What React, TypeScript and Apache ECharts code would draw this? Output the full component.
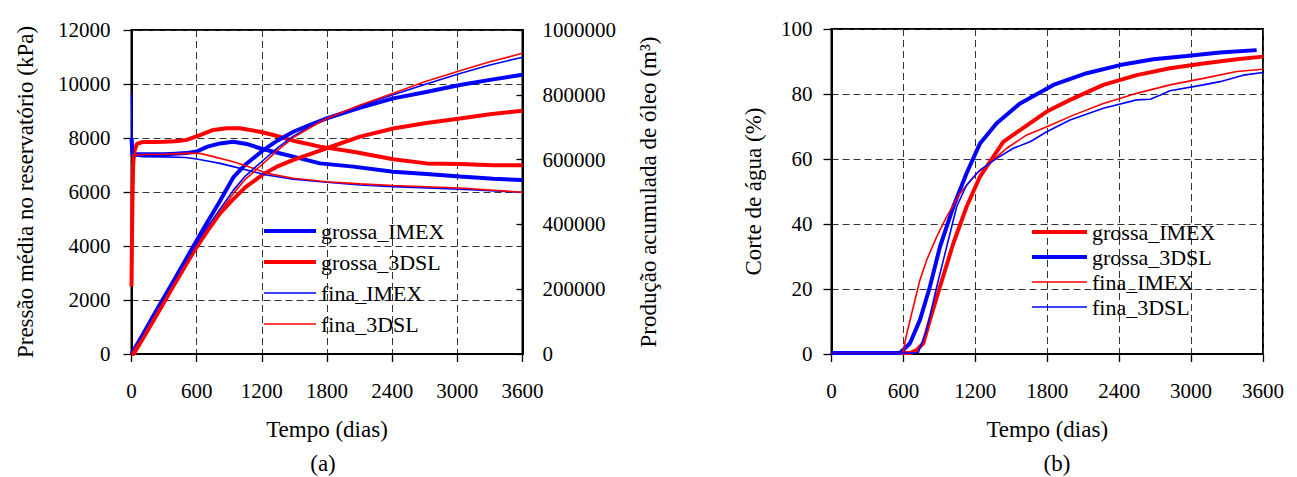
import React, { useEffect, useRef } from "react";
import * as echarts from "echarts";

const FONT = "Liberation Serif";
const BLUE = "#0000ff";
const RED = "#ff0000";
const THICK = 4;
const THIN = 1.6;

const X_TICKS = [0, 600, 1200, 1800, 2400, 3000, 3600];
const LEGEND_NAMES = ["grossa_IMEX", "grossa_3DSL", "fina_IMEX", "fina_3DSL"];

// ---------- (a) Pressão média (kPa) ----------
const pGrossaImexT = [0, 10, 30, 100, 200, 300, 400, 500, 600, 700, 815, 937, 1060, 1183, 1306, 1490, 1735, 2042, 2410, 2717, 3024, 3331, 3600];
const pGrossaImexV = [8000, 7350, 7400, 7400, 7400, 7400, 7420, 7440, 7500, 7680, 7800, 7860, 7780, 7620, 7490, 7310, 7060, 6940, 6750, 6670, 6570, 6490, 6440];

const pGrossa3dslT = [0, 5, 10, 15, 25, 50, 100, 200, 300, 400, 450, 508, 630, 753, 876, 998, 1183, 1306, 1490, 1735, 2042, 2410, 2717, 3024, 3331, 3600];
const pGrossa3dslV = [2500, 4500, 6000, 7000, 7500, 7780, 7850, 7850, 7860, 7880, 7900, 7930, 8110, 8300, 8360, 8360, 8230, 8110, 7900, 7680, 7490, 7210, 7060, 7040, 6990, 6990];

const pFinaImexT = [0, 5, 15, 100, 300, 500, 600, 700, 815, 937, 1122, 1244, 1490, 1797, 2104, 2410, 3024, 3600];
const pFinaImexV = [9700, 8200, 7350, 7310, 7300, 7280, 7220, 7150, 7060, 6940, 6750, 6630, 6470, 6360, 6260, 6200, 6100, 5990];

const pFina3dslT = [0, 100, 300, 508, 630, 753, 937, 1122, 1244, 1490, 1797, 2104, 2410, 3024, 3600];
const pFina3dslV = [7350, 7390, 7400, 7430, 7430, 7310, 7120, 6880, 6690, 6510, 6380, 6300, 6240, 6150, 5990];

// ---------- (a) Produção acumulada de óleo (m3) ----------
const qT = [0, 100, 200, 300, 400, 500, 600, 700, 800, 937, 1050, 1213, 1350, 1490, 1650, 1797, 2100, 2410, 2700, 3024, 3300, 3600];
const qGrossaImexV = [0, 58000, 117000, 175000, 233000, 292000, 350000, 408000, 464000, 545000, 585000, 629000, 660000, 686000, 708000, 727000, 760000, 789000, 808000, 830000, 846000, 862000];
const qFinaImexV = [0, 57000, 115000, 172000, 229000, 285000, 340000, 392000, 440000, 505000, 550000, 598000, 638000, 672000, 702000, 727000, 766000, 800000, 832000, 866000, 892000, 916000];
const qFina3dslV = [0, 50000, 108000, 165000, 222000, 278000, 333000, 385000, 432000, 495000, 540000, 588000, 630000, 668000, 700000, 727000, 768000, 805000, 840000, 874000, 902000, 928000];

const qGrossa3dslT = [0, 20, 100, 200, 300, 400, 500, 600, 700, 815, 937, 1050, 1213, 1350, 1490, 1650, 1797, 2104, 2410, 2700, 3024, 3300, 3600];
const qGrossa3dslV = [0, 0, 45000, 102000, 160000, 218000, 275000, 330000, 380000, 434000, 478000, 515000, 555000, 580000, 599000, 618000, 635000, 671000, 696000, 712000, 727000, 740000, 751000];

// ---------- (b) Corte de água (%) ----------
const wGrossaImexT = [0, 655, 710, 766, 821, 905, 1016, 1127, 1239, 1433, 1573, 1796, 1990, 2268, 2546, 2824, 3102, 3381, 3600];
const wGrossaImexV = [0.3, 0.3, 1.2, 3.3, 10.5, 20.7, 34, 45.3, 54.6, 65.3, 68.9, 74.6, 78.2, 82.8, 85.8, 87.9, 89.4, 90.7, 91.5];

const wGrossa3dslT = [0, 571, 655, 738, 821, 905, 1016, 1127, 1239, 1378, 1573, 1851, 2129, 2407, 2685, 2963, 3241, 3547];
const wGrossa3dslV = [0.3, 0.3, 3.3, 10.5, 20.7, 33, 45.3, 55.6, 64.8, 71, 77.1, 82.8, 86.4, 88.9, 90.7, 91.7, 92.8, 93.5];

const wFinaImexT = [0, 590, 599, 622, 683, 738, 794, 878, 961, 1072, 1211, 1350, 1462, 1629, 1796, 2018, 2268, 2546, 2824, 3102, 3381, 3600];
const wFinaImexV = [0.3, 0.3, 1, 5.3, 14.6, 22.8, 28.9, 36.1, 42.3, 49.4, 55.6, 59.7, 63.3, 67.4, 69.9, 73.5, 77.1, 80.2, 82.8, 84.8, 86.9, 87.6];

const wFina3dslT = [0, 700, 724, 794, 878, 961, 1044, 1127, 1239, 1378, 1517, 1657, 1796, 1990, 2268, 2546, 2660, 2750, 2824, 3102, 3241, 3436, 3600];
const wFina3dslV = [0.3, 0.3, 0.5, 7.4, 20.7, 33, 45.3, 52, 56.6, 60.2, 63.3, 65.3, 68.4, 72, 75.6, 78.2, 78.4, 79.8, 81, 82.8, 83.8, 85.8, 86.6];

const pairs = (t: number[], v: number[]) => t.map((x, i) => [x, v[i]]);

const line = (name: string, t: number[], v: number[], color: string, width: number, yAxisIndex = 0) => ({
  type: "line",
  name,
  data: pairs(t, v),
  yAxisIndex,
  symbol: "none",
  showSymbol: false,
  smooth: false,
  lineStyle: { color, width },
  itemStyle: { color },
  emphasis: { disabled: true },
  z: width > 2 ? 2 : 3,
});

const plain = (v: number) => String(v);
const labelStyle = { fontFamily: FONT, fontSize: 21, color: "#000", formatter: plain };
const nameStyle = { fontFamily: FONT, fontSize: 23, color: "#000" };
const axisLine = { show: true, onZero: false, lineStyle: { color: "#000", width: 2 } };
const split = { show: true, lineStyle: { color: "#333", width: 1, type: [7, 4] } };

const xAxisCfg = () => ({
  type: "value",
  min: X_TICKS[0],
  max: X_TICKS[X_TICKS.length - 1],
  interval: 600,
  axisLine,
  axisTick: { show: true, length: 8, lineStyle: { color: "#000", width: 1.3 } },
  axisLabel: { ...labelStyle, margin: 26 },
  splitLine: split,
  name: "Tempo (dias)",
  nameLocation: "middle",
  nameGap: 64,
  nameTextStyle: nameStyle,
});

const THICK_ICON = "path://M0,0H52V4H0Z";
const THIN_ICON = "path://M0,0H52V1.6H0Z";

const legendCfg = (left: number, top: number, itemWidth: number, itemGap: number) => ({
  orient: "vertical",
  left,
  top,
  padding: 0,
  itemWidth,
  itemHeight: 14,
  itemGap,
  symbolKeepAspect: true,
  selectedMode: false,
  textStyle: { fontFamily: FONT, fontSize: 22, color: "#000" },
  data: LEGEND_NAMES.map((name, i) => ({ name, icon: i < 2 ? THICK_ICON : THIN_ICON })),
});

function optionA() {
  return {
    animation: false,
    backgroundColor: "#fff",
    grid: { left: 131.5, top: 30, right: 157.5, bottom: 123, show: true, borderColor: "#000", borderWidth: 2, backgroundColor: "transparent" },
    legend: legendCfg(264, 220, 52, 9),
    xAxis: xAxisCfg(),
    yAxis: [
      {
        type: "value",
        min: 0,
        max: 12000,
        interval: 2000,
        axisLine,
        axisTick: { show: true, length: 8, lineStyle: { color: "#000", width: 1.3 } },
        axisLabel: { ...labelStyle, margin: 21 },
        splitLine: split,
        name: "Pressão média no reservatório (kPa)",
        nameLocation: "middle",
        nameRotate: 90,
        nameGap: 95,
        nameTextStyle: nameStyle,
      },
      {
        type: "value",
        position: "right",
        min: 0,
        max: 1000000,
        interval: 200000,
        axisLine,
        axisTick: { show: true, inside: true, length: 6, lineStyle: { color: "#000", width: 1.3 } },
        axisLabel: { ...labelStyle, margin: 20 },
        splitLine: { show: false },
        name: "Produção acumulada de óleo (m³)",
        nameLocation: "middle",
        nameRotate: 90,
        nameGap: 114,
        nameTextStyle: nameStyle,
      },
    ],
    graphic: [
      { type: "text", x: 323, y: 463, style: { text: "(a)", fontFamily: FONT, fontSize: 23, fill: "#000", align: "center", verticalAlign: "middle" } },
    ],
    series: [
      line("grossa_IMEX", pGrossaImexT, pGrossaImexV, BLUE, THICK, 0),
      line("grossa_3DSL", pGrossa3dslT, pGrossa3dslV, RED, THICK, 0),
      line("fina_IMEX", pFinaImexT, pFinaImexV, BLUE, THIN, 0),
      line("fina_3DSL", pFina3dslT, pFina3dslV, RED, THIN, 0),
      line("grossa_IMEX", qT, qGrossaImexV, BLUE, THICK, 1),
      line("grossa_3DSL", qGrossa3dslT, qGrossa3dslV, RED, THICK, 1),
      line("fina_IMEX", qT, qFinaImexV, BLUE, THIN, 1),
      line("fina_3DSL", qT, qFina3dslV, RED, THIN, 1),
    ],
  };
}

function optionB() {
  return {
    animation: false,
    backgroundColor: "#fff",
    grid: { left: 151.5, top: 29, right: 34, bottom: 123, show: true, borderColor: "#000", borderWidth: 2, backgroundColor: "transparent" },
    legend: legendCfg(352, 221, 55, 3),
    xAxis: xAxisCfg(),
    yAxis: {
      type: "value",
      min: 0,
      max: 100,
      interval: 20,
      axisLine,
      axisTick: { show: true, length: 8, lineStyle: { color: "#000", width: 1.3 } },
      axisLabel: { ...labelStyle, margin: 19 },
      splitLine: split,
      name: "Corte de água (%)",
      nameLocation: "middle",
      nameRotate: 90,
      nameGap: 67,
      nameTextStyle: nameStyle,
    },
    graphic: [
      { type: "text", x: 377, y: 463, style: { text: "(b)", fontFamily: FONT, fontSize: 23, fill: "#000", align: "center", verticalAlign: "middle" } },
    ],
    series: [
      line("grossa_IMEX", wGrossaImexT, wGrossaImexV, RED, THICK),
      line("grossa_3DSL", wGrossa3dslT, wGrossa3dslV, BLUE, THICK),
      line("fina_IMEX", wFinaImexT, wFinaImexV, RED, THIN),
      line("fina_3DSL", wFina3dslT, wFina3dslV, BLUE, THIN),
    ],
  };
}

function Chart({ option, style }: { option: any; style: React.CSSProperties }) {
  const ref = useRef<HTMLDivElement>(null);
  useEffect(() => {
    if (!ref.current) return;
    const chart = echarts.init(ref.current, undefined, { renderer: "svg" });
    chart.setOption(option);
    return () => chart.dispose();
  }, [option]);
  return <div ref={ref} style={style} />;
}

const OPT_A = optionA();
const OPT_B = optionB();

export default function App() {
  return (
    <div style={{ position: "absolute", left: 0, top: 0, width: 1297, height: 477, background: "#fff" }}>
      <Chart option={OPT_A} style={{ position: "absolute", left: 0, top: 0, width: 680, height: 477 }} />
      <Chart option={OPT_B} style={{ position: "absolute", left: 680, top: 0, width: 617, height: 477 }} />
    </div>
  );
}
